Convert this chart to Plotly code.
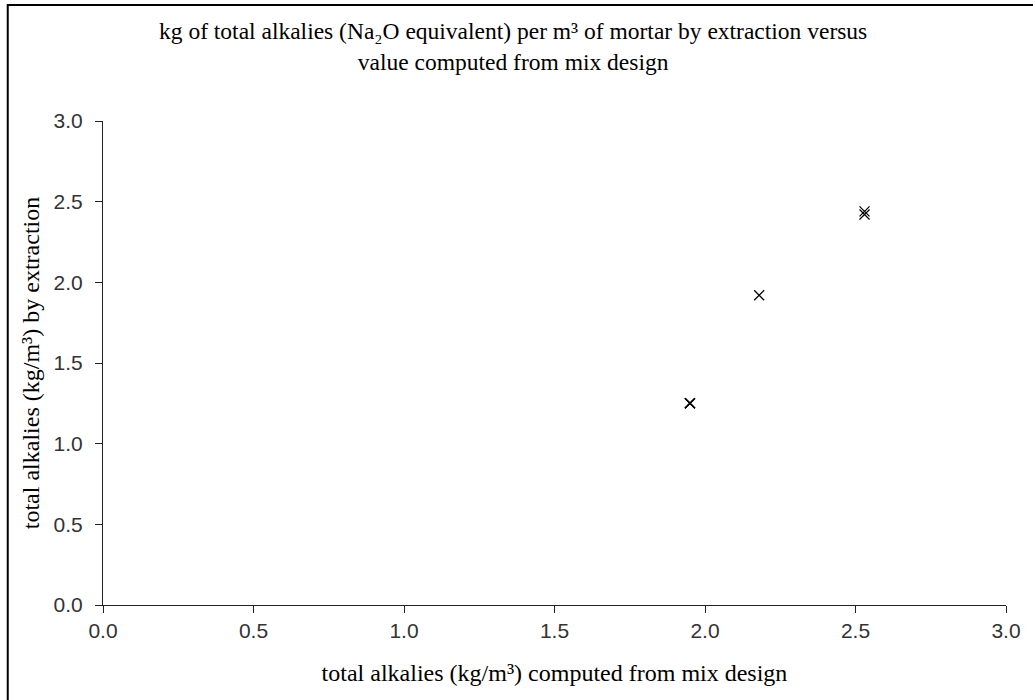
import plotly.graph_objects as go

computed = [1.95, 1.95, 1.95, 2.18, 2.53, 2.53]
extracted = [1.25, 1.25, 1.25, 1.92, 2.44, 2.42]
tick_vals = [0.0, 0.5, 1.0, 1.5, 2.0, 2.5, 3.0]
tick_text = ["0.0", "0.5", "1.0", "1.5", "2.0", "2.5", "3.0"]

title_text = ("kg of total alkalies (Na\u2082O equivalent) per m\u00b3 of mortar by extraction versus<br>"
              "value computed from mix design")
x_title = "total alkalies (kg/m\u00b3) computed from mix design"
y_title = "total alkalies (kg/m\u00b3) by extraction"

W, H = 1033, 700
L, R, T, B = 103, 20, 121, 95
PW, PH = W - L - R, H - T - B

title_font = dict(family="Liberation Serif", size=23.5, color="black")
axis_font = dict(family="Liberation Serif", size=24, color="black")
tickf = dict(family="Liberation Sans", size=21, color="#333")

fig = go.Figure()
fig.add_trace(go.Scatter(
    x=computed, y=extracted, mode="markers",
    marker=dict(symbol="x-thin-open", size=10, color="black",
                line=dict(color="black", width=1.3)),
    showlegend=False, hoverinfo="x+y",
))

fig.update_layout(
    width=W, height=H,
    paper_bgcolor="white", plot_bgcolor="white",
    margin=dict(l=L, r=R, t=T, b=B),
    font=tickf,
)

# chart title (two lines, centred on the page)
fig.add_annotation(
    text=title_text, xref="paper", yref="paper",
    x=(W / 2 - L) / PW, xanchor="center",
    y=1 + (T - 16) / PH, yanchor="top",
    showarrow=False, align="center", font=title_font,
)

fig.update_xaxes(
    range=[0, 3], tickvals=tick_vals, ticktext=tick_text,
    showgrid=False, zeroline=False, showline=True, linecolor="#222", linewidth=1,
    ticks="outside", ticklen=7, tickcolor="#222", tickfont=tickf,
    title=dict(text=x_title, font=axis_font, standoff=22),
)
fig.update_yaxes(
    range=[0, 3], tickvals=tick_vals, ticktext=tick_text,
    showgrid=False, zeroline=False, showline=True, linecolor="#222", linewidth=1,
    ticks="outside", ticklen=7, tickcolor="#222", tickfont=tickf,
    ticklabelstandoff=8,
    title=dict(text=y_title, font=axis_font, standoff=7),
)

# outer frame: left and top edges visible as in the reference
fig.add_shape(type="rect", xref="paper", yref="paper",
              x0=(7 - L) / PW, x1=1.2,
              y0=-0.5, y1=1 + (T - 5) / PH,
              line=dict(color="black", width=2), fillcolor="rgba(0,0,0,0)", layer="below")

fig.write_html("out.html", config={"displayModeBar": False},
               post_script="document.body.style.margin='0';")
